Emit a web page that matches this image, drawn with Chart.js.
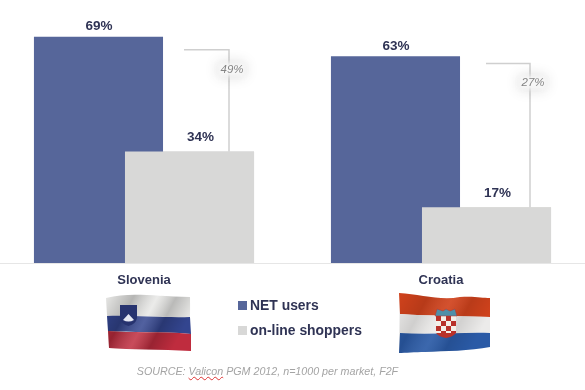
<!DOCTYPE html>
<html>
<head>
<meta charset="utf-8">
<title>NET users and on-line shoppers</title>
<script src="https://cdn.jsdelivr.net/npm/chart.js@4"></script>
<style>
  html, body { margin:0; padding:0; background:#fff; }
  #wrap { position:relative; width:585px; height:390px; overflow:hidden; font-family:"Liberation Sans", Arial, sans-serif; }
  #wrap canvas { position:absolute; left:0; top:0; }
  .flag { position:absolute; left:0; top:0; }
  .leg { position:absolute; left:238px; font-weight:bold; font-size:13.9px; line-height:18px; color:#2f3354; white-space:nowrap; }
  .leg i { position:absolute; left:0; top:5px; width:9px; height:9px; }
  .leg span { margin-left:12px; }
  #source { position:absolute; left:0; width:535px; text-align:center; top:365px; font-style:italic; font-size:10.7px; color:#a4a4a4; white-space:nowrap; }
  #source u { text-decoration:underline wavy #d33; text-decoration-thickness:1px; }
</style>
</head>
<body>
<div id="wrap">
  <canvas id="chart" width="585" height="390"></canvas>

  <svg class="flag" width="585" height="390">
    <defs>
      <linearGradient id="fold" x1="0" y1="0" x2="1" y2="0.35">
        <stop offset="0" stop-color="#000" stop-opacity="0"/>
        <stop offset="0.3" stop-color="#000" stop-opacity="0.22"/>
        <stop offset="0.55" stop-color="#fff" stop-opacity="0.15"/>
        <stop offset="0.75" stop-color="#000" stop-opacity="0.2"/>
        <stop offset="1" stop-color="#000" stop-opacity="0"/>
      </linearGradient>
      <pattern id="check" x="436" y="316" width="10" height="10" patternUnits="userSpaceOnUse">
        <rect width="10" height="10" fill="#f4efe8"/>
        <rect width="5" height="5" fill="#b8312a"/>
        <rect x="5" y="5" width="5" height="5" fill="#b8312a"/>
      </pattern>
    </defs>
    <!-- Slovenia -->
    <path d="M106 298 C130 292 150 296 190 297 L190 317 C165 318 130 315 107 316 Z" fill="#e8e8e6"/>
    <path d="M107 316 C130 315 165 318 190 317 L191 334 C160 331 130 333 108 331 Z" fill="#33458f"/>
    <path d="M108 331 C130 333 160 331 191 334 L191 351 C160 349 130 350 109 348 Z" fill="#bf2c3e"/>
    <path d="M106 298 C130 292 150 296 190 297 L191 351 C160 349 130 350 109 348 Z" fill="url(#fold)"/>
    <path d="M120 305 L137 305 L137 318 Q136 324 128.5 326 Q121 324 120 318 Z" fill="#27336f"/>
    <path d="M123 320 L128.5 314 L134 320 Q128.5 323 123 320 Z" fill="#e6e8f2"/>
    <!-- Croatia -->
    <path d="M399 293 C420 294 440 301 460 297 C475 296 482 298 490 298 L490 317 C465 316 430 316 400 314 Z" fill="#d0421c"/>
    <path d="M400 314 C430 316 465 316 490 317 L490 333 C465 332 430 335 400 333 Z" fill="#ecebea"/>
    <path d="M400 333 C430 335 465 332 490 333 L490 347 C470 351 445 351 425 352 C415 352 405 353 399 353 Z" fill="#2a5aa6"/>
    <path d="M399 293 C420 294 440 301 460 297 C475 296 482 298 490 298 L490 347 C470 351 445 351 425 352 C415 352 405 353 399 353 Z" fill="url(#fold)" opacity="0.55"/>
    <rect x="436" y="316" width="20" height="17" fill="url(#check)"/>
    <path d="M436 333 L456 333 Q453 337 446 338 Q439 337 436 333 Z" fill="#b8312a"/>
    <path d="M435 316 L437 309 L443 311 L446 309 L450 311 L455 309 L457 316 Z" fill="#4f8fa8" stroke="#b8312a" stroke-width="0.5"/>
  </svg>

  <div id="legend"></div>
  <div id="source">SOURCE: <u>Valicon</u> PGM 2012, n=1000 per market, F2F</div>
</div>

<script>
// Data
const countries   = ['Slovenia', 'Croatia'];
const netUsers    = [69, 63];
const shoppers    = [34, 17];
const gapLabels   = ['49%', '27%'];
const gapTop      = [65, 60.8];   // where the bracket starts, in % on the value axis
const gapLabelAt  = [59, 55];     // where the bracket label sits

const BLUE = '#56669a', GRAY = '#d8d8d7', INK = '#2f3354';

// Bracket offsets from the country tick, px
const gapLeft  = [40, 45];
const gapRight = [85, 89];

// Overlays: baseline, brackets, value labels
const overlays = {
  id: 'overlays',
  afterDatasetsDraw(chart) {
    const ctx = chart.ctx, x = chart.scales.x, y = chart.scales.y;
    const base = y.getPixelForValue(0);

    // gray bars sit on top of the blue ones
    chart.getDatasetMeta(1).controller.draw();

    ctx.save();
    // baseline runs the whole page width, under the bars
    ctx.globalCompositeOperation = 'destination-over';
    ctx.fillStyle = '#e6e6e6';
    ctx.fillRect(0, base, chart.width, 1);
    ctx.globalCompositeOperation = 'source-over';

    // brackets
    countries.forEach((c, i) => {
      const cx = x.getPixelForValue(i);
      const yTop = y.getPixelForValue(gapTop[i]);
      ctx.strokeStyle = '#cfcfcf';
      ctx.lineWidth = 1.5;
      ctx.beginPath();
      ctx.moveTo(cx + gapLeft[i], yTop);
      ctx.lineTo(cx + gapRight[i], yTop);
      ctx.lineTo(cx + gapRight[i], y.getPixelForValue(shoppers[i]));
      ctx.stroke();

      // soft gray glow behind the label
      const ly = y.getPixelForValue(gapLabelAt[i]);
      ctx.save();
      ctx.shadowColor = 'rgba(0,0,0,0.16)';
      ctx.shadowBlur = 12;
      ctx.fillStyle = '#f7f7f7';
      ctx.filter = 'blur(2px)';
      ctx.fillRect(cx + gapRight[i] - 11, ly - 7, 27, 14);
      ctx.restore();
      ctx.fillStyle = '#858585';
      ctx.font = 'italic 11.5px "Liberation Sans"';
      ctx.textAlign = 'center';
      ctx.textBaseline = 'middle';
      ctx.fillText(gapLabels[i], cx + gapRight[i] + 3, ly);
    });

    // value labels
    ctx.font = 'bold 13.5px "Liberation Sans"';
    ctx.fillStyle = INK;
    ctx.textAlign = 'center';
    ctx.textBaseline = 'middle';
    chart.data.datasets.forEach((ds, d) => {
      chart.getDatasetMeta(d).data.forEach((bar, i) => {
        ctx.fillText(ds.data[i] + '%', bar.x + (d === 1 ? 11 : 0.5), bar.y - (d === 1 ? 14 : 10));
      });
    });
    ctx.restore();
  }
};

const chart = new Chart(document.getElementById('chart').getContext('2d'), {
  type: 'bar',
  data: {
    labels: countries,
    datasets: [
      { label: 'NET users', data: netUsers, backgroundColor: BLUE, clip: false },
      { label: 'on-line shoppers', data: shoppers, backgroundColor: GRAY, clip: false }
    ]
  },
  options: {
    responsive: false,
    animation: false,
    layout: { padding: { left: 144, right: 144, top: 17, bottom: 0 } },
    // chunk 91px of a 297px step, bars wider than their slot so they overlap
    datasets: { bar: { categoryPercentage: 0.613, barPercentage: 1.418 } },
    plugins: { legend: { display: false }, tooltip: { enabled: false } },
    scales: {
      x: {
        offset: false,
        grid: { display: false },
        border: { display: false },
        ticks: { color: INK, padding: 2, maxRotation: 0, autoSkip: false,
                 font: { family: '"Liberation Sans"', size: 13, weight: 'bold' } },
        afterFit(scale) { scale.height = 127; }
      },
      y: { display: false, min: 0, max: 75 }
    }
  },
  plugins: [overlays]
});

// Legend
const legendEl = document.getElementById('legend');
chart.data.datasets.forEach((ds, i) => {
  const row = document.createElement('div');
  row.className = 'leg';
  row.style.top = (296 + i * 25) + 'px';
  row.innerHTML = `<i style="background:${ds.backgroundColor}"></i><span>${ds.label}</span>`;
  legendEl.appendChild(row);
});
</script>
</body>
</html>
